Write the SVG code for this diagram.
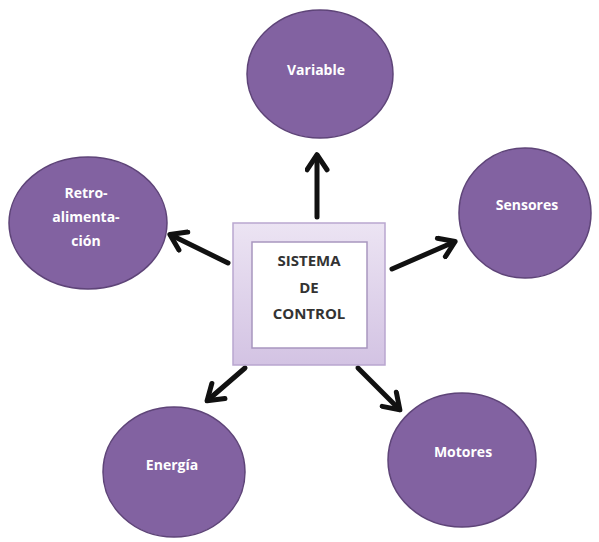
<svg xmlns="http://www.w3.org/2000/svg" width="599" height="542" viewBox="0 0 599 542">
<style>
.node{fill:#8262a1;stroke:#5e4478;stroke-width:1.5}
.lbl{font-family:"Open Sans","Liberation Sans",sans-serif;font-weight:bold;font-size:14px;fill:#ffffff;text-anchor:middle}
.ctr{font-family:"Open Sans","Liberation Sans",sans-serif;font-weight:bold;font-size:15px;fill:#333333;text-anchor:middle}
.arr{stroke:#111;stroke-width:5;fill:none;stroke-linecap:round;marker-end:url(#head)}
</style>
<defs>
<marker id="head" viewBox="0 0 10 10" refX="7" refY="5" markerWidth="5" markerHeight="5" orient="auto" markerUnits="strokeWidth">
<path d="M1.5,1 L7.5,5 L1.5,9" fill="none" stroke="#111" stroke-width="2" stroke-linecap="round" stroke-linejoin="round"/>
</marker>
<linearGradient id="boxg" x1="0" y1="0" x2="0" y2="1">
<stop offset="0" stop-color="#ece4f3"/>
<stop offset="1" stop-color="#d3c3e3"/>
</linearGradient>
</defs>
<rect width="599" height="542" fill="#ffffff"/>
<g id="connectors">
<line class="arr" x1="317" y1="217" x2="317" y2="156"/>
<line class="arr" x1="228" y1="263" x2="171" y2="235"/>
<line class="arr" x1="392" y1="269" x2="454" y2="242"/>
<line class="arr" x1="245" y1="368" x2="208" y2="400"/>
<line class="arr" x1="358" y1="368" x2="399" y2="409"/>
</g>
<g id="center">
<rect x="233" y="223" width="152" height="142" fill="url(#boxg)" stroke="#b9a6cf" stroke-width="1.5"/>
<rect x="252" y="242" width="115" height="106" fill="#ffffff" stroke="#a896bf" stroke-width="1.5"/>
<text class="ctr" x="309" y="266">SISTEMA</text>
<text class="ctr" x="309" y="293">DE</text>
<text class="ctr" x="309" y="319">CONTROL</text>
</g>
<g id="variable">
<ellipse class="node" cx="320" cy="74" rx="73" ry="64"/>
<text class="lbl" x="316" y="75">Variable</text>
</g>
<g id="retro">
<ellipse class="node" cx="88" cy="223" rx="79" ry="66"/>
<text class="lbl" x="86" y="198">Retro-</text>
<text class="lbl" x="86" y="222">alimenta-</text>
<text class="lbl" x="86" y="246">ción</text>
</g>
<g id="sensores">
<ellipse class="node" cx="525" cy="213" rx="66" ry="65"/>
<text class="lbl" x="527" y="210">Sensores</text>
</g>
<g id="energia">
<ellipse class="node" cx="174" cy="472" rx="71" ry="65"/>
<text class="lbl" x="172" y="470">Energía</text>
</g>
<g id="motores">
<ellipse class="node" cx="462" cy="460" rx="74" ry="67"/>
<text class="lbl" x="463" y="457">Motores</text>
</g>
</svg>
